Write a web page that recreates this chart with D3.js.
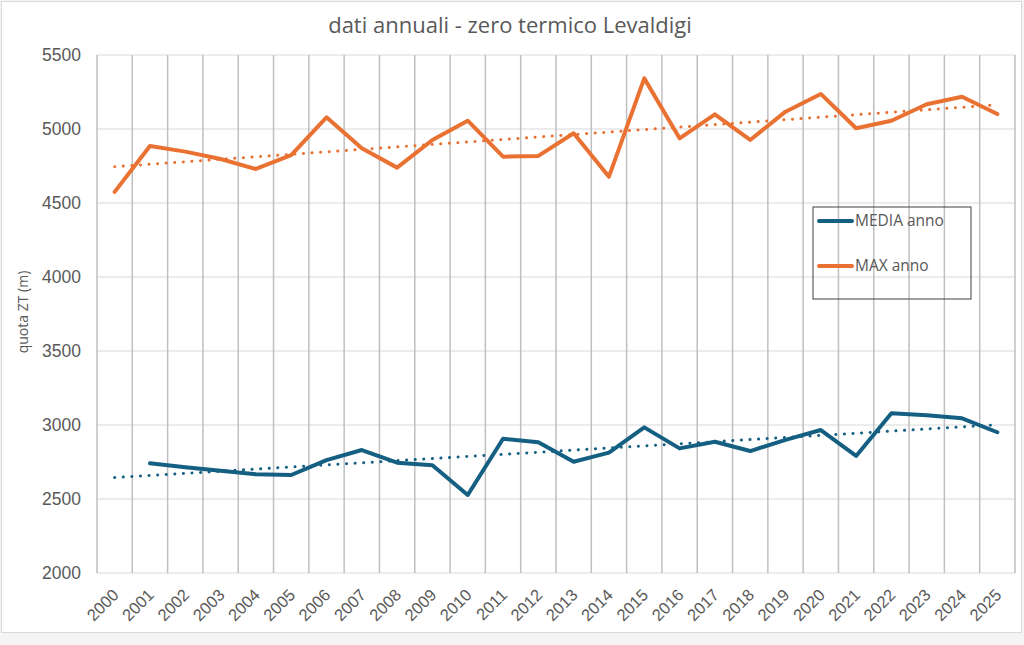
<!DOCTYPE html>
<html lang="it">
<head>
<meta charset="UTF-8">
<title>dati annuali - zero termico Levaldigi</title>
<script src="https://d3js.org/d3.v7.min.js"></script>
<style>
    body { margin: 0; background: #f4f4f4; font-family: "Open Sans", "Liberation Sans", sans-serif; }
    svg { display: block; }
</style>
</head>
<body>
<svg id="chart" width="1024" height="645"></svg>
<script>
// anni (categorie)
const years = ["2000","2001","2002","2003","2004","2005","2006","2007","2008","2009","2010","2011","2012",
               "2013","2014","2015","2016","2017","2018","2019","2020","2021","2022","2023","2024","2025"];

// valori (m)
const maxAnno = [4575, 4885, 4847, 4797, 4730, 4824, 5079, 4870, 4739, 4926, 5056, 4813, 4818,
                 4971, 4678, 5342, 4937, 5099, 4926, 5117, 5237, 5005, 5056, 5167, 5218, 5101];
const mediaAnno = [null, 2741, 2714, 2691, 2667, 2662, 2763, 2831, 2745, 2728, 2527, 2907, 2883,
                   2752, 2813, 2984, 2842, 2887, 2824, 2899, 2966, 2791, 3079, 3066, 3045, 2951];

const yTicks = [2000, 2500, 3000, 3500, 4000, 4500, 5000, 5500];

const series = [
    { name: "MEDIA anno", values: mediaAnno, color: "#156082" },
    { name: "MAX anno", values: maxAnno, color: "#E97132" }
];

const svg = d3.select("#chart");
const margin = { top: 55, left: 97 };
const plotW = 1015 - margin.left, plotH = 573 - margin.top;

// sfondo area grafico
svg.append("rect")
    .attr("x", 1.5).attr("y", 1.5)
    .attr("width", 1020).attr("height", 631)
    .attr("fill", "#fff").attr("stroke", "#d9d9d9");

const g = svg.append("g").attr("transform", `translate(${margin.left},${margin.top})`);

const x = d3.scaleBand().domain(years).range([0, plotW]).padding(0);
const y = d3.scaleLinear().domain([2000, 5500]).range([plotH, 0]);
const cx = i => x(years[i]) + x.bandwidth() / 2;

// griglia orizzontale
g.append("g")
    .selectAll("line")
    .data(yTicks)
    .join("line")
    .attr("x1", 0).attr("x2", plotW)
    .attr("y1", d => y(d)).attr("y2", d => y(d))
    .attr("stroke", "#d9d9d9").attr("stroke-width", 1);

// griglia verticale tra le categorie
const bounds = years.map(d => x(d)).concat([plotW]);
g.append("g")
    .selectAll("line")
    .data(bounds)
    .join("line")
    .attr("x1", d => d).attr("x2", d => d)
    .attr("y1", 0).attr("y2", plotH)
    .attr("stroke", "#bfbfbf").attr("stroke-width", 1.5);

// asse y
const yAxis = g.append("g")
    .call(d3.axisLeft(y).tickValues(yTicks).tickFormat(d3.format("d")).tickSize(0).tickPadding(16));
yAxis.select(".domain").remove();
yAxis.selectAll("text")
    .attr("fill", "#595959")
    .style("font-size", "17.5px");

// asse x
const xAxis = g.append("g")
    .attr("transform", `translate(0,${plotH})`)
    .call(d3.axisBottom(x).tickSize(0).tickPadding(0));
xAxis.select(".domain").remove();
xAxis.selectAll("text")
    .attr("fill", "#595959")
    .style("font-size", "16.5px")
    .attr("text-anchor", "end")
    .attr("dy", "0.35em")
    .attr("transform", "translate(1,19) rotate(-45)");

// linee di tendenza (regressione lineare)
function trend(values) {
    const pts = values.map((v, i) => [i, v]).filter(p => p[1] != null);
    const mx = d3.mean(pts, p => p[0]), my = d3.mean(pts, p => p[1]);
    const b = d3.sum(pts, p => (p[0] - mx) * (p[1] - my)) / d3.sum(pts, p => (p[0] - mx) ** 2);
    const a = my - b * mx;
    return [[0, a], [values.length - 1, a + b * (values.length - 1)]];
}

const line = d3.line()
    .defined(d => d[1] != null)
    .x(d => cx(d[0]))
    .y(d => y(d[1]));

series.forEach(s => {
    g.append("path")
        .datum(trend(s.values))
        .attr("d", line)
        .attr("fill", "none")
        .attr("stroke", s.color)
        .attr("stroke-width", 3)
        .attr("stroke-linecap", "round")
        .attr("stroke-dasharray", "0.1 8.5");
});

series.forEach(s => {
    g.append("path")
        .datum(s.values.map((v, i) => [i, v]))
        .attr("d", line)
        .attr("fill", "none")
        .attr("stroke", s.color)
        .attr("stroke-width", 4)
        .attr("stroke-linejoin", "round")
        .attr("stroke-linecap", "round");
});

// titolo
svg.append("text")
    .attr("x", 510).attr("y", 33)
    .attr("text-anchor", "middle")
    .attr("fill", "#595959")
    .style("font-size", "22px")
    .text("dati annuali - zero termico Levaldigi");

// titolo asse y
svg.append("text")
    .attr("transform", "translate(23,312) rotate(-90)")
    .attr("text-anchor", "middle")
    .attr("dy", "0.35em")
    .attr("fill", "#595959")
    .style("font-size", "14px")
    .text("quota ZT (m)");

// legenda
const legend = svg.append("g").attr("transform", "translate(813,207)");
legend.append("rect")
    .attr("width", 158).attr("height", 92)
    .attr("fill", "none")
    .attr("stroke", "#404040").attr("stroke-width", 1);
series.forEach((s, i) => {
    const ly = 14 + i * 45;
    legend.append("line")
        .attr("x1", 6).attr("x2", 39)
        .attr("y1", ly).attr("y2", ly)
        .attr("stroke", s.color).attr("stroke-width", 4)
        .attr("stroke-linecap", "round");
    legend.append("text")
        .attr("x", 42).attr("y", ly)
        .attr("dy", "0.35em")
        .attr("fill", "#595959")
        .style("font-size", "15.5px")
        .text(s.name);
});
</script>
</body>
</html>
